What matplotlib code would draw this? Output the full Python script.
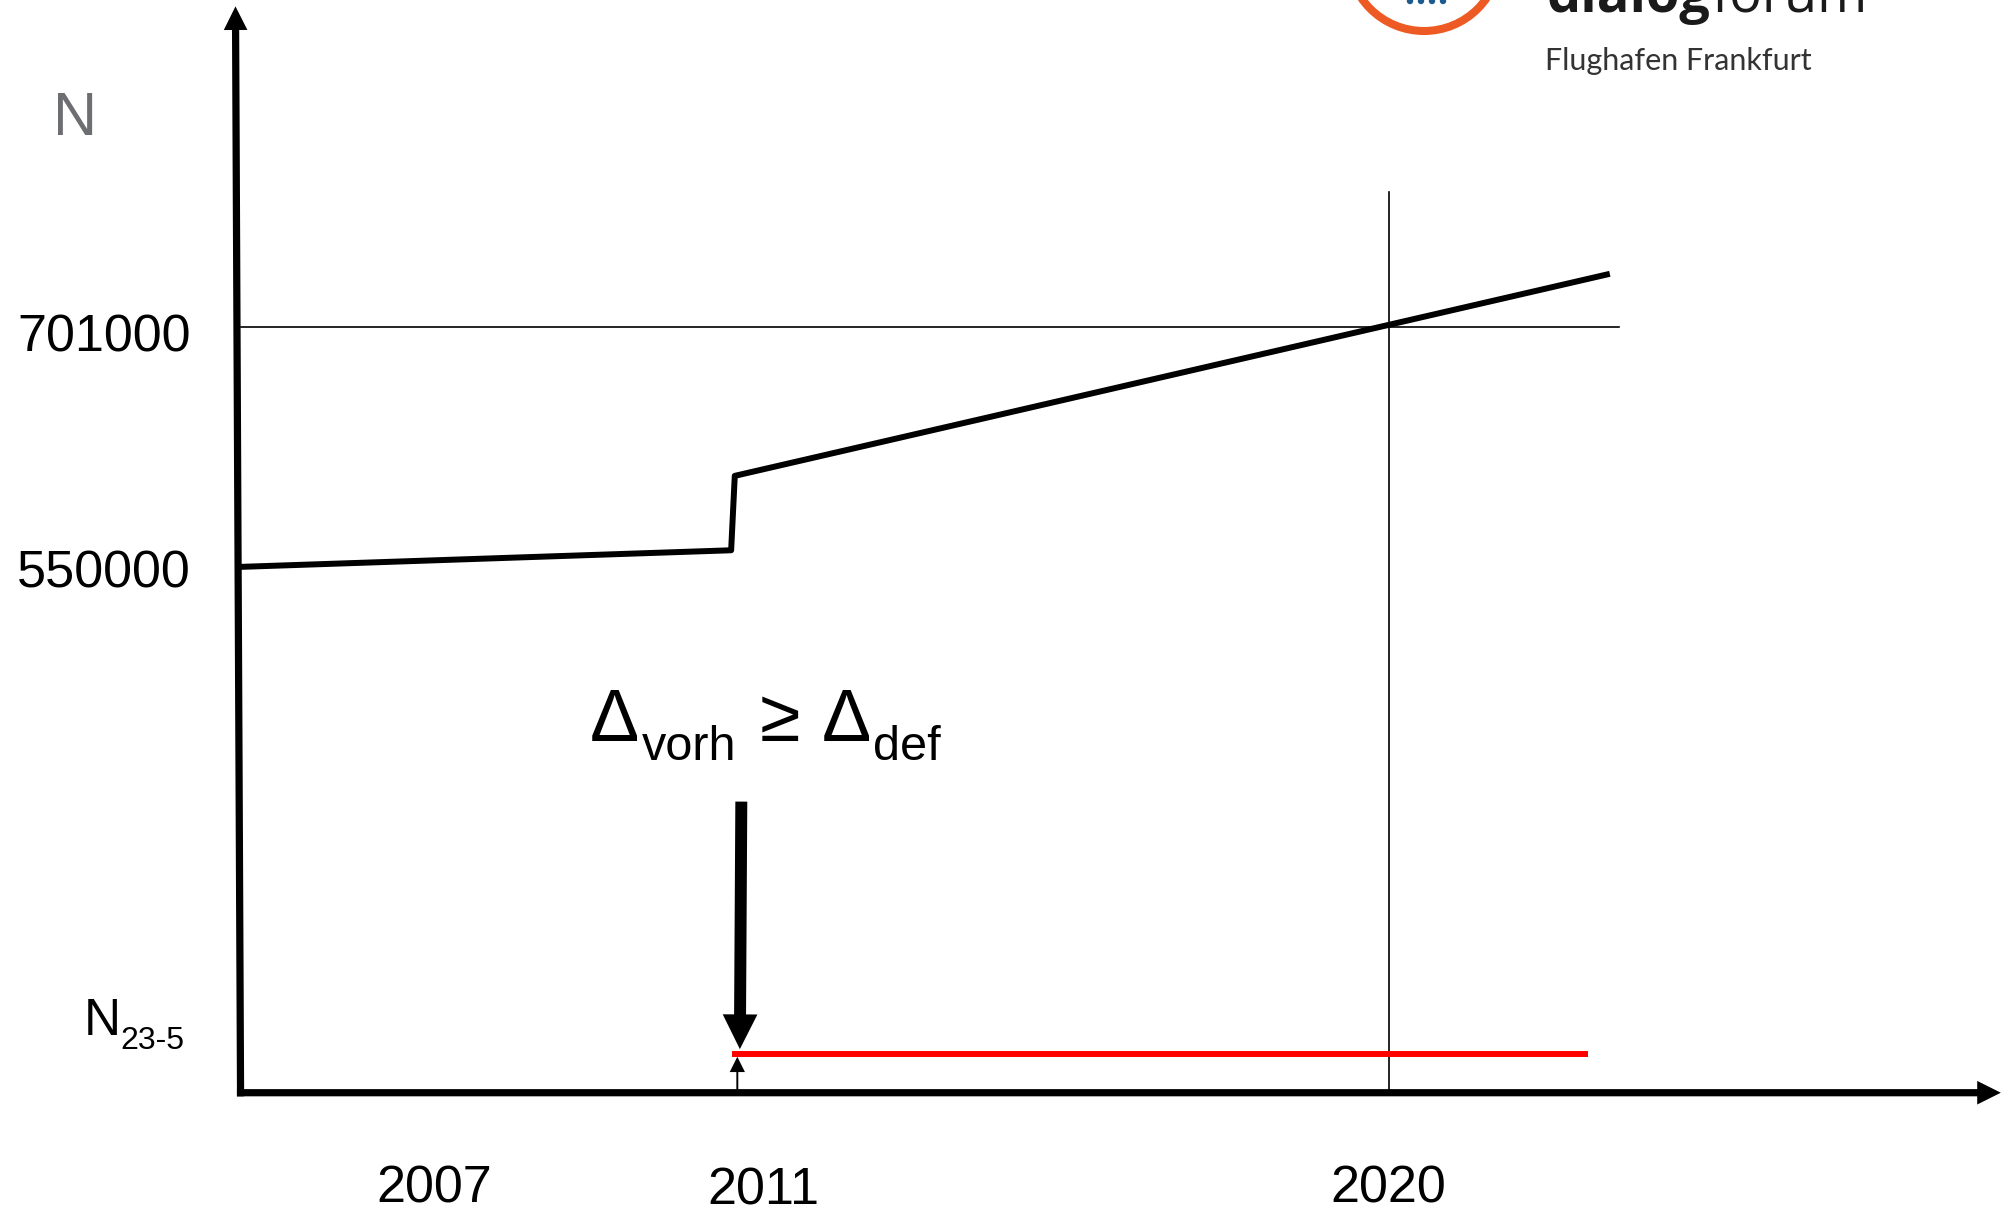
import matplotlib.pyplot as plt
from matplotlib.patches import Circle

plt.rcParams['font.family'] = ['Liberation Sans', 'DejaVu Sans']

# flight movements per year (schematic)
years = [2004.2, 2010.95, 2011.0, 2023.0]
movements = [550800, 561200, 607800, 733900]

# night limit N 23-5
limit_years = [2011.0, 2022.7]
limit_value = 245600

cap_value = 701000
cap_year = 2020
y_ticks = [550000, 701000]
y_tick_dy = [-4, -8]
x_tick_labels = ['2007', '2011', '2020']
x_tick_pos = [2006.86, 2011.39, 2019.99]
x_tick_dy = [-69, -70.5, -69]

# axis origin / ends
x0, y0 = 2004.2, 221500
x_end, y_end = 2028.42, 901800

fig = plt.figure(figsize=(20.11, 12.12), dpi=100)
ax = fig.add_axes([0, 0, 1, 1])
ax.set_xlim(2000.89, 2028.56)
ax.set_ylim(146800, 905800)
ax.axis('off')

# main curve, reference lines, limit line
ax.plot(years, movements, color='k', lw=4.3)
ax.plot([x0, 2023.16], [cap_value, cap_value], color='k', lw=1.2)
ax.plot([cap_year, cap_year], [y0, 785300], color='k', lw=1.2)
ax.plot(limit_years, [limit_value, limit_value], color='#ff0000', lw=4.3)

def arrow(tail, tip, hl, hw, tw):
    ax.annotate('', xy=tip, xytext=tail,
                arrowprops=dict(arrowstyle=f'simple,head_length={hl},head_width={hw},tail_width={tw}',
                                mutation_scale=1, color='k', lw=0, shrinkA=0, shrinkB=0))

# axes
arrow((x0 - 0.05, y0), (x_end, y0), 17, 17, 5.2)
arrow((x0, y0 - 2300), (x0 - 0.07, y_end), 17, 17, 5.2)
# delta arrow + small tick arrow
arrow((2011.09, 403800), (2011.07, 248800), 25, 25, 8.6)
arrow((2011.035, y0), (2011.035, 244000), 11, 11, 1.4)

for v, dy in zip(y_ticks, y_tick_dy):
    ax.annotate(f'{v}', xy=(x0, v), xytext=(-36, dy), textcoords='offset points',
                ha='right', va='center', fontsize=37.5)

for p, lab, dy in zip(x_tick_pos, x_tick_labels, x_tick_dy):
    ax.annotate(lab, xy=(p, y0), xytext=(0, dy), textcoords='offset points',
                ha='center', va='center', fontsize=37.5)

ax.annotate('N', xy=(x0, limit_value), xytext=(-113, 13.7), textcoords='offset points',
            ha='left', va='baseline', fontsize=37)
ax.annotate('23-5', xy=(x0, limit_value), xytext=(-86.4, 3.6), textcoords='offset points',
            ha='left', va='baseline', fontsize=23)

# overlay in pixel coords for free text and logo
deco = fig.add_axes([0, 0, 1, 1])
deco.set_xlim(0, 2011)
deco.set_ylim(1212, 0)
deco.axis('off')

deco.text(75.5, 135, 'N', ha='center', va='baseline', fontsize=44, color='#6d6e71')

# delta_vorh >= delta_def
deco.text(590, 741, '\u0394', ha='left', va='baseline', fontsize=53)
deco.text(642, 760, 'vorh', ha='left', va='baseline', fontsize=35)
deco.text(760, 741, '\u2265', ha='left', va='baseline', fontsize=53)
deco.text(822, 741, '\u0394', ha='left', va='baseline', fontsize=53)
deco.text(873, 760, 'def', ha='left', va='baseline', fontsize=35)

# logo
deco.add_patch(Circle((1424, -45), 76, fill=False, lw=5.8, ec='#ee5a24'))
for dx in [1410, 1421, 1432, 1443]:
    deco.add_patch(Circle((dx, 1), 3.2, color='#1d5b8f', lw=0))
t1 = deco.text(1547, 12, 'dialog', ha='left', va='baseline', fontsize=39,
               family='Open Sans', weight='bold', color='#1a1a1a')
deco.text(1711, 12, 'forum', ha='left', va='baseline', fontsize=39,
          family='Open Sans', color='#1a1a1a')
deco.text(1545, 70, 'Flughafen Frankfurt', ha='left', va='baseline', fontsize=22,
          family='Lato', color='#333333')

fig.savefig('out.png', dpi=100)
